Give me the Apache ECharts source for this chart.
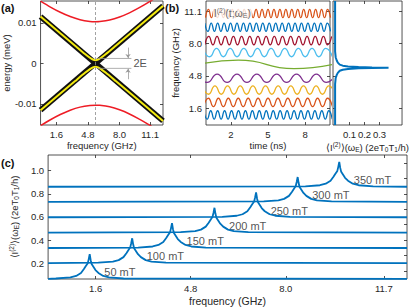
<!DOCTYPE html>
<html><head><meta charset="utf-8">
<script src="https://cdn.jsdelivr.net/npm/echarts@6/dist/echarts.min.js"></script>
<style>html,body{margin:0;padding:0;background:#fff}#c{width:411px;height:307px}</style>
</head><body><div id="c"></div>
<script>
// ---------- panel (a) ----------
const aFreqTicks = [1.6, 4.8, 8.0, 11.1];
const aEnergyTicks = [-0.01, 0, 0.01];
// black crossing lines (end points, GHz / meV)
const aCrossX = [0, 12.4];
const aCrossDown = [0.01155, -0.0142];
const aCrossUp = [-0.01155, 0.0142];
// yellow avoided-crossing branches
const aBranchX = [0, 2, 3.5, 4.5, 5.0, 5.3, 5.56, 5.82, 6.12, 6.62, 7.62, 9.12, 12.4];
const aBranchUpper = [0.01155, 0.00742, 0.00436, 0.00233, 0.00140, 0.00096, 0.0008, 0.00096, 0.00140, 0.00233, 0.00436, 0.00742, 0.0142];
const aBranchLower = [-0.01155, -0.00742, -0.00436, -0.00233, -0.00140, -0.00096, -0.0008, -0.00096, -0.00140, -0.00233, -0.00436, -0.00742, -0.0142];
const aRedX = [0, 1, 2, 3, 4, 5, 5.56, 6, 7, 8, 9, 10, 11, 12];
const aRedUpper = [0.01537, 0.01391, 0.01262, 0.01156, 0.01079, 0.01036, 0.0103, 0.01034, 0.01071, 0.01145, 0.01248, 0.01375, 0.01518, 0.01675];
const aRedLower = [-0.01537, -0.01391, -0.01262, -0.01156, -0.01079, -0.01036, -0.0103, -0.01034, -0.01071, -0.01145, -0.01248, -0.01375, -0.01518, -0.01675];
const aResonance = 5.56;
const aGapE = 0.00122;

// ---------- panel (b) ----------
const bTimeTicks = [2, 5, 8];
const bFreqTicks = [1.6, 4.8, 8.0, 11.1];
const bWaveCenters = [0.98, 2.2, 3.41, 4.56, 5.92, 7.07, 8.24, 9.54, 10.88];
const bWaveAmp = [0.41, 0.41, 0.41, 0.41, 0.41, 0.41, 0.41, 0.41, 0.41];
const bWaveFirstSign = [1, -1, 1, 1, -1, 1, -1, 1, -1];
// times (ns) of successive crests/troughs of each trace, bottom to top
const bWave1 = [-0.18,0.10,0.38,0.66,0.94,1.22,1.50,1.78,2.06,2.34,2.62,2.90,3.18,3.46,3.74,4.02,4.30,4.58,4.86,5.14,5.42,5.70,5.98,6.26,6.54,6.82,7.10,7.38,7.66,7.94,8.22,8.50,8.78,9.06,9.34,9.62,9.90,10.18];
const bWave2 = [-0.2,0.2,0.6,1.0,1.4,1.8,2.2,2.6,3.0,3.4,3.8,4.2,4.6,5.0,5.4,5.8,6.2,6.6,7.0,7.4,7.8,8.2,8.6,9.0,9.4,9.8,10.2];
const bWave3 = [-0.3,0.21,0.72,1.23,1.74,2.25,2.76,3.27,3.78,4.29,4.80,5.31,5.82,6.33,6.84,7.35,7.86,8.37,8.88,9.39,9.90,10.41];
const bWave4 = [-0.7,0.1,0.9,1.7,2.5,3.3,4.1,4.9,5.7,6.5,7.3,8.1,8.9,9.7,10.5];
const bWave5 = [-1.9,2.6,7.1,11.6];
const bWave6 = [-0.25,0.30,0.85,1.40,1.95,2.50,3.05,3.60,4.15,4.70,5.25,5.80,6.35,6.90,7.45,8.00,8.55,9.10,9.65,10.20];
const bWave7 = [-0.1,0.23,0.56,0.89,1.22,1.55,1.88,2.21,2.54,2.87,3.20,3.53,3.86,4.19,4.52,4.85,5.18,5.51,5.84,6.17,6.50,6.83,7.16,7.49,7.82,8.15,8.48,8.81,9.14,9.47,9.80,10.13];
const bWave8 = [-0.10,0.16,0.42,0.68,0.94,1.20,1.46,1.72,1.98,2.24,2.50,2.76,3.02,3.28,3.54,3.80,4.06,4.32,4.58,4.84,5.10,5.36,5.62,5.88,6.14,6.40,6.66,6.92,7.18,7.44,7.70,7.96,8.22,8.48,8.74,9.00,9.26,9.52,9.78,10.04];
const bWave9 = [-0.04,0.20,0.44,0.68,0.92,1.16,1.40,1.64,1.88,2.12,2.36,2.60,2.84,3.08,3.32,3.56,3.80,4.04,4.28,4.52,4.76,5.00,5.24,5.48,5.72,5.96,6.20,6.44,6.68,6.92,7.16,7.40,7.64,7.88,8.12,8.36,8.60,8.84,9.08,9.32,9.56,9.80,10.04];
const bSpecTicks = [0.1, 0.2, 0.3];
const bSpecFreq = [0, 3.99, 4.59, 4.89, 5.09, 5.29, 5.39, 5.47, 5.53, 5.57, 5.59, 5.61, 5.65, 5.71, 5.79, 5.89, 6.09, 6.29, 6.59, 7.19, 12.1];
const bSpecVal  = [0.004, 0.004, 0.008, 0.015, 0.022, 0.035, 0.055, 0.09, 0.16, 0.25, 0.36, 0.25, 0.16, 0.09, 0.055, 0.035, 0.022, 0.015, 0.008, 0.004, 0.004];

// ---------- panel (c) ----------
const cFreqTickPos = [1.6, 4.8, 8.0, 11.3];
const cFreqTickText = ['1.6', '4.8', '8.0', '11.7'];
const cYTicks = [0.2, 0.4, 0.6, 0.8, 1.0];
const cYRightTicks = [0.133, 0.267, 0.4, 0.533, 0.667, 0.8, 0.933, 1.067];
const cFields = ['50 mT', '100 mT', '150 mT', '200 mT', '250 mT', '300 mT', '350 mT'];
const cPeakFreq = [1.40, 2.83, 4.17, 5.60, 7.00, 8.40, 9.80];
const cBaseline = [0.063, 0.2, 0.331, 0.464, 0.597, 0.730, 0.861];
const cProfileOffset = [-1.14, -0.65, -0.456, -0.293, -0.195, -0.13, -0.065, -0.033, 0, 0.033, 0.065, 0.13, 0.195, 0.293, 0.456, 0.65, 1.14];
const cProfileHeight = [0.004, 0.013, 0.026, 0.052, 0.086, 0.112, 0.137, 0.172, 0.215, 0.163, 0.129, 0.103, 0.077, 0.052, 0.026, 0.013, 0.004];

// ---------- build ----------
const FF = '"Liberation Sans", Arial, Helvetica, sans-serif';
const TXT = '#262626';
const BLUE = '#0072BD';
const waveColors = ['#0072BD', '#D95319', '#EDB120', '#7E2F8E', '#77AC30', '#4DBEEE', '#A2142F', '#0072BD', '#D95319'];
const richT = {
  n: {fontSize: 9.5, fontFamily: FF, color: TXT},
  sup: {fontSize: 6.5, fontFamily: FF, color: TXT, padding: [0, 0, 5, 0]},
  sub: {fontSize: 6.5, fontFamily: FF, color: TXT, padding: [5, 0, 0, 0]}
};
const specName = '{n|⟨I}{sup|(2)}{n|⟩(ω}{sub|E}{n|) (2eT}{sub|0}{n|T}{sub|1}{n|/h)}';

function axis(grid, min, max, ticks, opt) {
  opt = opt || {};
  return {
    type: 'value', gridIndex: grid, min: min, max: max, position: opt.position,
    axisLine: {show: false, onZero: false}, splitLine: {show: false},
    axisTick: {show: true, inside: true, length: 3, customValues: ticks, lineStyle: {color: TXT, width: 0.8}},
    axisLabel: {show: opt.labels !== false, customValues: ticks, fontSize: opt.fs || 9.5, color: TXT, margin: 4, fontFamily: FF, formatter: opt.fmt},
    name: opt.name || '', nameLocation: 'middle', nameGap: opt.gap || 15, nameRotate: opt.rot,
    nameTextStyle: Object.assign({fontSize: opt.nfs || 9.5, color: TXT, fontFamily: FF}, opt.rich ? {rich: richT} : {})
  };
}
function pairs(xs, ys) { return xs.map((x, i) => [x, ys[i]]); }

const grids = [
  {left: 37, top: 1, width: 126, height: 124},
  {left: 206, top: 1, width: 124, height: 124},
  {left: 333, top: 1, width: 74, height: 124},
  {left: 36, top: 155, width: 371, height: 125}
].map(g => Object.assign(g, {show: true, borderColor: TXT, borderWidth: 0.8, containLabel: false}));

const xAxes = [
  axis(0, 0, 12.4, aFreqTicks, {name: 'frequency (GHz)', gap: 15, position: 'bottom', fmt: v => v.toFixed(1)}),
  axis(1, 0, 10, bTimeTicks, {name: 'time (ns)', gap: 15, position: 'bottom'}),
  axis(2, -0.01, 0.45, bSpecTicks, {name: specName, gap: 16, rich: true, position: 'bottom', fmt: v => v.toFixed(1)}),
  axis(3, 0, 12.08, cFreqTickPos, {name: 'frequency (GHz)', gap: 16, nfs: 10.5, position: 'bottom', fmt: v => {
    const i = cFreqTickPos.findIndex(p => Math.abs(p - v) < 1e-6); return i >= 0 ? cFreqTickText[i] : '';
  }}),
  // mirrored top ticks
  axis(0, 0, 12.4, aFreqTicks, {labels: false, position: 'top'}),
  axis(1, 0, 10, bTimeTicks, {labels: false, position: 'top'}),
  axis(2, -0.01, 0.45, bSpecTicks, {labels: false, position: 'top'}),
  axis(3, 0, 12.08, cFreqTickPos, {labels: false, position: 'top'})
];
const yAxes = [
  axis(0, -0.0152, 0.0154, aEnergyTicks, {name: 'energy (meV)', gap: 27, rot: 90, position: 'left', fmt: v => Math.abs(v) < 1e-9 ? '0' : v.toFixed(2)}),
  axis(1, 0, 12.1, bFreqTicks, {name: 'frequency (GHz)', gap: 24, rot: 90, position: 'left', fmt: v => v.toFixed(1)}),
  axis(2, 0, 12.1, bFreqTicks, {labels: false, position: 'left'}),
  axis(3, 0.0627, 1.1357, cYTicks, {name: specName, gap: 24, rot: 90, rich: true, position: 'left', fmt: v => v.toFixed(1)}),
  // mirrored right ticks
  axis(0, -0.0152, 0.0154, aEnergyTicks, {labels: false, position: 'right'}),
  axis(1, 0, 12.1, bFreqTicks, {labels: false, position: 'right'}),
  axis(2, 0, 12.1, bFreqTicks, {labels: false, position: 'right'}),
  axis(3, 0.0627, 1.1357, cYRightTicks, {labels: false, position: 'right'})
];

const series = [];
// panel (a)
series.push({type: 'line', xAxisIndex: 0, yAxisIndex: 0, data: pairs(aRedX, aRedUpper), smooth: 0.3, symbol: 'none', lineStyle: {color: '#ee1c25', width: 1.5},
  markLine: {silent: true, symbol: 'none', label: {show: false}, lineStyle: {color: '#8c8c8c', width: 0.8, type: [3, 2]}, data: [{xAxis: aResonance}]}});
series.push({type: 'line', xAxisIndex: 0, yAxisIndex: 0, data: pairs(aRedX, aRedLower), smooth: 0.3, symbol: 'none', lineStyle: {color: '#ee1c25', width: 1.5}});
[aCrossDown, aCrossUp].forEach(b => series.push({type: 'line', xAxisIndex: 0, yAxisIndex: 0, data: pairs(aCrossX, b), symbol: 'none', lineStyle: {color: '#111', width: 5.5}}));
[aBranchUpper, aBranchLower].forEach(b => series.push({type: 'line', xAxisIndex: 0, yAxisIndex: 0, data: pairs(aBranchX, b), smooth: 0.2, symbol: 'none', lineStyle: {color: '#f3ea10', width: 2}}));
[aGapE, -aGapE].forEach(e => series.push({type: 'line', xAxisIndex: 0, yAxisIndex: 0, data: [[5.8, e], [9.2, e]], symbol: 'none', lineStyle: {color: '#9a9a9a', width: 0.8}}));
series.push({type: 'line', xAxisIndex: 0, yAxisIndex: 0, data: [], markLine: {silent: true, symbol: ['none', 'arrow'], symbolSize: 4, label: {show: false},
  lineStyle: {color: '#9a9a9a', width: 0.8, type: 'solid'},
  data: [[{coord: [8.86, 3.2 * aGapE]}, {coord: [8.86, aGapE + 0.0001]}], [{coord: [8.86, -3.2 * aGapE]}, {coord: [8.86, -aGapE - 0.0001]}]]}});
series.push({type: 'scatter', xAxisIndex: 0, yAxisIndex: 0, data: [[9.4, 0]], symbolSize: 0, silent: true,
  label: {show: true, position: 'right', distance: 0, formatter: '2E', fontSize: 11, color: TXT, fontFamily: FF}});

// panel (b) waves
const bWaves = [bWave1, bWave2, bWave3, bWave4, bWave5, bWave6, bWave7, bWave8, bWave9];
bWaves.forEach((ts, k) => {
  const data = ts.map((t, i) => [t, bWaveCenters[k] + bWaveFirstSign[k] * (i % 2 === 0 ? 1 : -1) * bWaveAmp[k]]);
  series.push({type: 'line', xAxisIndex: 1, yAxisIndex: 1, data: data, smooth: 0.55, symbol: 'none', lineStyle: {color: waveColors[k], width: 1.3}});
});
series.push({type: 'scatter', xAxisIndex: 1, yAxisIndex: 1, data: [[0.55, 10.95]], symbolSize: 0, silent: true, z: 10,
  label: {show: true, position: 'right', distance: 0, backgroundColor: '#fff', padding: [1, 1, 0, 1],
    formatter: '{n|I}{sup|(2)}{n|(t;ω}{sub|E}{n|)}',
    rich: {n: {fontSize: 10.5, fontFamily: FF, color: '#444'}, sup: {fontSize: 7, fontFamily: FF, color: '#444', padding: [0, 0, 5, 0]}, sub: {fontSize: 7, fontFamily: FF, color: '#444', padding: [5, 0, 0, 0]}}}});
// panel (b) spectrum
series.push({type: 'line', xAxisIndex: 2, yAxisIndex: 2, data: pairs(bSpecVal, bSpecFreq), symbol: 'none', lineStyle: {color: BLUE, width: 2}});

// panel (c)
cPeakFreq.forEach((f, k) => {
  const d = [[0, cBaseline[k]]];
  cProfileOffset.forEach((o, i) => d.push([f + o, cBaseline[k] + cProfileHeight[i]]));
  d.push([12.08, cBaseline[k]]);
  series.push({type: 'line', xAxisIndex: 3, yAxisIndex: 3, data: d, symbol: 'none', lineStyle: {color: BLUE, width: 1.8}});
});
series.push({type: 'scatter', xAxisIndex: 3, yAxisIndex: 3, symbolSize: 0, silent: true,
  data: cPeakFreq.map((f, k) => ({value: [f + 0.49, cBaseline[k] + 0.058], name: cFields[k]})),
  label: {show: true, position: 'right', distance: 0, formatter: p => p.name, fontSize: 11, color: TXT, fontFamily: FF}});

const chart = echarts.init(document.getElementById('c'), null, {renderer: 'svg'});
chart.setOption({
  animation: false,
  backgroundColor: '#fff',
  grid: grids, xAxis: xAxes, yAxis: yAxes, series: series,
  graphic: [
    {type: 'text', left: 1, top: 2, style: {text: '(a)', fill: '#111', font: 'bold 11px ' + FF}},
    {type: 'text', left: 165, top: 2, style: {text: '(b)', fill: '#111', font: 'bold 11px ' + FF}},
    {type: 'text', left: 1, top: 157, style: {text: '(c)', fill: '#111', font: 'bold 11px ' + FF}}
  ]
});
</script></body></html>
